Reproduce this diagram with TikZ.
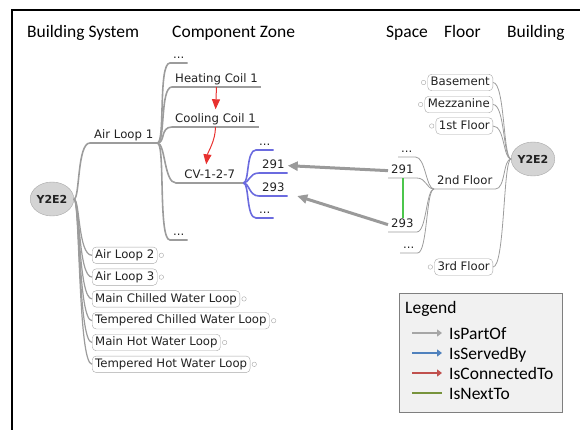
\documentclass[tikz,border=0pt]{standalone}
\usepackage{fontspec}
\setmainfont{Carlito}
\newfontfamily\mapfont{DejaVu Sans}
\usetikzlibrary{shapes.geometric,arrows.meta,positioning,calc}
\definecolor{branchgray}{HTML}{9C9C9C}
\definecolor{boxgray}{HTML}{A8A8A8}
\definecolor{hubfill}{HTML}{D4D4D4}
\definecolor{servedblue}{HTML}{6B6BDF}
\definecolor{connred}{HTML}{E8312F}
\definecolor{nextgreen}{HTML}{4CC64C}
\definecolor{partgray}{HTML}{9A9A9A}
\definecolor{lggray}{HTML}{A6A6A6}
\definecolor{lgblue}{HTML}{4F81BD}
\definecolor{lgred}{HTML}{C0504D}
\definecolor{lggreen}{HTML}{77933C}
\definecolor{lgfill}{HTML}{F1F1F1}
\definecolor{lgframe}{HTML}{7F7F7F}
\definecolor{mapink}{HTML}{222222}

\begin{document}
\begin{tikzpicture}[x=1pt, y=-1pt,
  mapfnt/.style={font=\mapfont\fontsize{11.7}{13}\selectfont, text=mapink},
  colhead/.style={anchor=base west, inner sep=0pt, font=\fontsize{17.5}{20}\selectfont},
  hub/.style={ellipse, draw=boxgray, fill=hubfill, minimum width=42pt, minimum height=34pt,
    inner sep=0pt, font=\mapfont\bfseries\fontsize{11}{13}\selectfont, text=mapink},
  topic/.style={mapfnt, anchor=south west, inner xsep=3pt, inner ysep=1.5pt,
    text height=8.8pt, text depth=2.5pt},
  box/.style={mapfnt, draw=boxgray, fill=white, rounded corners=4pt, inner xsep=3pt,
    inner ysep=0pt, minimum height=16.5pt, text height=8.8pt, text depth=2.5pt},
  knob/.style={circle, draw=boxgray, fill=white, inner sep=0pt, minimum size=4.5pt},
  branch/.style={draw=branchgray, line width=1.6pt},
  stem/.style={draw=branchgray, line width=1.2pt},
  twig/.style={draw=branchgray, line width=0.8pt},
  served/.style={draw=servedblue, line width=1.6pt},
  ispart/.style={draw=partgray, line width=3pt, -{Triangle[length=10pt,width=9pt]}},
  isconn/.style={draw=connred, line width=1pt, -{Triangle[length=10pt,width=8pt]}},
  isnext/.style={draw=nextgreen, line width=1.2pt},
  lgarrow/.style={-{Triangle[length=5pt,width=7pt]}},
  lgline/.style={}]
  \useasboundingbox (0,0) rectangle (580,430);
  \draw[line width=1.6pt] (12,432) -- (12,10) -- (582,10);

  \node[colhead] (hsys) at (27,38) {Building System};
  \node[colhead] (hzone) at (172,38) {Component Zone};
  \node[colhead] (hspace) at (386,38) {Space};
  \node[colhead] (hfloor) at (444,38) {Floor};
  \node[colhead] (hbldg) at (507,38) {Building};

  \node[hub] (bsys) at (52,199) {Y2E2};
  \node[topic, inner xsep=4pt] (al1) at (90,143) {Air Loop 1};
  \draw[branch] (bsys.east) .. controls (80,199) and (77,143) .. (al1.south west) -- (al1.south east);

  \node[topic] (cd1) at (170,63) {...};
  \node[topic] (hc) at (172,87) {Heating Coil 1};
  \node[topic] (cc) at (172,127) {Cooling Coil 1};
  \node[topic, minimum width=67pt] (cv) at (176,183) {CV-1-2-7};
  \node[topic] (cd2) at (170,240) {...};
  \foreach \n in {cd1,hc,cc,cv,cd2}
    \draw[branch] (al1.south east) .. controls ($(al1.south east)+(8,0)$) and ($(\n.south west)+(-12,0)$) .. (\n.south west) -- (\n.south east);

  \draw[isconn, shorten >=3pt] (hc.south) -- (cc.north);
  \draw[isconn, shorten >=4pt] (cc.south) .. controls ($(cc.south)+(0,14)$) and ($(cv.north)+(-2,-16)$) .. ([xshift=-4pt]cv.north);

  \node[topic] (bd1) at (256,150) {...};
  \node[topic] (b291) at (259,173) {291};
  \node[topic] (b293) at (259,196) {293};
  \node[topic] (bd2) at (256,218) {...};
  \foreach \n in {bd1,b291,b293,bd2}
    \draw[served] (cv.south east) .. controls ($(cv.south east)+(6,0)$) and ($(\n.south west)+(-10,0)$) .. (\n.south west) -- (\n.south east);

  \foreach \lbl [count=\i] in {Air Loop 2,Air Loop 3,Main Chilled Water Loop,Tempered Chilled Water Loop,Main Hot Water Loop,Tempered Hot Water Loop} {
    \node[box, anchor=west] (loop\i) at (92,{233.5+21.8*\i}) {\lbl};
    \node[knob, right=1.5pt of loop\i] (loop\i-k) {};
    \draw[stem] (bsys.east) .. controls (80,199) and ($(loop\i.west)+(-14,0)$) .. (loop\i.west);
  }

  \node[hub] (bldg) at (533,159) {Y2E2};
  \node[box, anchor=east] (bas) at (493,82.5) {Basement};
  \node[box, anchor=east] (mez) at (493,104.5) {Mezzanine};
  \node[box, anchor=east] (fl1) at (493,126) {1st Floor};
  \node[topic, inner xsep=3pt] (fl2) at (434,189) {2nd Floor};
  \node[box, anchor=east] (fl3) at (493,267) {3rd Floor};
  \foreach \n in {bas,mez,fl1,fl3} {
    \node[knob, left=1.5pt of \n] (\n-k) {};
    \draw[twig] (\n.east) .. controls ($(\n.east)+(12,0)$) and ($(bldg.west)+(-8,0)$) .. (bldg.west);
  }
  \draw[twig] (fl2.south west) -- (fl2.south east) .. controls ($(fl2.south east)+(10,0)$) and ($(bldg.west)+(-8,0)$) .. (bldg.west);

  \node[topic] (sd1) at (398,157) {...};
  \node[topic] (s291) at (388,178) {291};
  \node[topic] (s293) at (388,232) {293};
  \node[topic] (sd2) at (400,253) {...};
  \foreach \n in {sd1,s291,s293,sd2}
    \draw[twig] (\n.south west) -- (\n.south east) .. controls ($(\n.south east)+(10,0)$) and ($(fl2.south west)+(-8,0)$) .. (fl2.south west);

  \draw[ispart] (s291.west) -- (b291.east);
  \draw[ispart, shorten >=10pt] (s293.west) -- ([yshift=3pt]b293.south east);
  \coordinate (nxtop) at (403,178.5);
  \coordinate (nxbot) at (403,218);
  \draw[isnext] (nxtop) -- (nxbot);

  \node[draw=lgframe, fill=lgfill, minimum width=163pt, minimum height=119pt, inner sep=0pt, anchor=north west] (legend) at (399,293) {};
  \node[anchor=base west, inner sep=0pt, font=\fontsize{17.5}{20}\selectfont] (lgtitle) at (405,313) {Legend};
  \foreach \lbl/\col/\tp [count=\i] in {IsPartOf/lggray/lgarrow,IsServedBy/lgblue/lgarrow,IsConnectedTo/lgred/lgarrow,IsNextTo/lggreen/lgline} {
    \node[anchor=base west, inner sep=0pt, font=\fontsize{17.5}{20}\selectfont] (lg\i) at (449,{319+20*\i}) {\lbl};
    \coordinate (lgs\i) at (412,{313+20*\i});
    \draw[\tp, draw=\col, line width=2.6pt] (lgs\i) -- (442,{313+20*\i});
  }
\end{tikzpicture}
\end{document}
